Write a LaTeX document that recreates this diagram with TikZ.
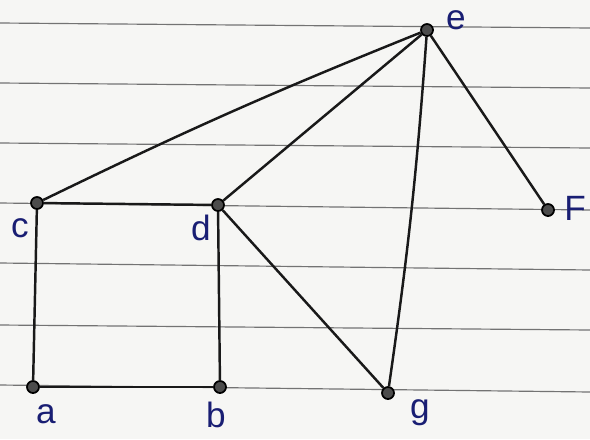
\documentclass[tikz,border=0pt]{standalone}
\usepackage{fontspec}
\setsansfont{Liberation Sans}
\usepackage{tikz}
\usetikzlibrary{positioning}
\definecolor{inkblue}{RGB}{25,30,115}
\definecolor{paper}{RGB}{246,246,244}
\tikzset{
    vtx/.style={circle, draw=black, fill=black!70, line width=1.5pt, minimum size=0.36cm, inner sep=0pt},
    edge/.style={line width=2.1pt, black!90},
    vlabel/.style={font=\sffamily\fontsize{30}{34}\selectfont, text=inkblue, inner sep=0pt},
    ruling/.style={black!55, line width=1pt}
}
\begin{document}
\begin{tikzpicture}[x=0.03cm, y=-0.03cm]
        \fill[paper] (0,0) rectangle (590,439);
        \useasboundingbox (0,0) rectangle (590,439);
        % ruled paper
        \foreach \ya/\yb in {23/28, 83/88, 143/148, 203/210, 263/270, 325/330, 385/392}
            \draw[ruling] (0,\ya) -- (590,\yb);

        \node[vtx] (e) at (427,30) {};
        \node[vtx] (c) at (37,203) {};
        \node[vtx] (d) at (218,205) {};
        \node[vtx] (f) at (548,210) {};
        \node[vtx] (a) at (33,387) {};
        \node[vtx] (b) at (220,387) {};
        \node[vtx] (g) at (388,393) {};

        \node[vlabel] (le) at (456,20) {e};
        \node[vlabel] (lc) at (20,228) {c};
        \node[vlabel] (ld) at (201,228) {d};
        \node[vlabel] (lf) at (575,208) {F};
        \node[vlabel] (la) at (46,414) {a};
        \node[vlabel] (lb) at (216,415) {b};
        \node[vlabel] (lg) at (420,413) {g};

        \draw[edge] (e) to[bend right=2] (c);
        \draw[edge] (e) -- (d);
        \draw[edge] (e) to[bend left=2] (g);
        \draw[edge] (e) -- (f);
        \draw[edge] (c) -- (d);
        \draw[edge] (c) -- (a);
        \draw[edge] (d) -- (b);
        \draw[edge] (a) -- (b);
        \draw[edge] (d) -- (g);
    \end{tikzpicture}
\end{document}
